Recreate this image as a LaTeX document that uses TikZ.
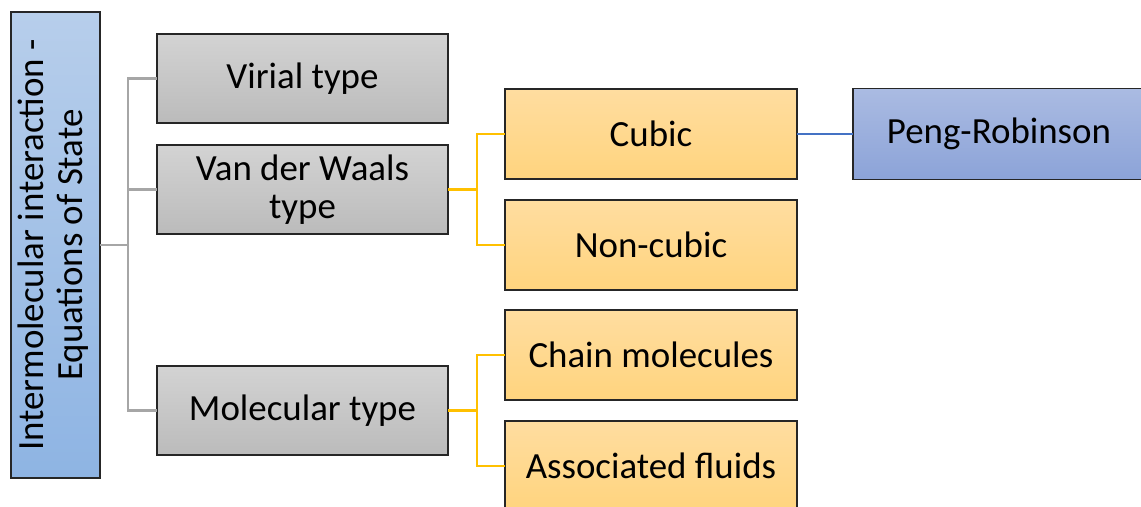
\documentclass[tikz,border=0pt]{standalone}
\usepackage{fontspec}
\setmainfont{Carlito}
\usepackage{graphicx}
\usepackage{tikz}
\usetikzlibrary{positioning}
\definecolor{rootTop}{HTML}{B7CEEB}
\definecolor{rootBottom}{HTML}{8EB4E3}
\definecolor{grayTop}{HTML}{D3D3D3}
\definecolor{grayBottom}{HTML}{BBBBBB}
\definecolor{orangeTop}{HTML}{FFDDA0}
\definecolor{orangeBottom}{HTML}{FFD47E}
\definecolor{blueTop}{HTML}{AABBE2}
\definecolor{blueBottom}{HTML}{8CA3D8}
\definecolor{grayLine}{HTML}{A6A6A6}
\definecolor{orangeLine}{HTML}{FFC000}
\definecolor{blueLine}{HTML}{4472C4}
\definecolor{borderColor}{HTML}{262626}

\begin{document}
\begin{tikzpicture}[
  box/.style={
    rectangle,
    draw=borderColor,
    line width=0.6pt,
    align=center,
    inner sep=2pt,
    outer sep=0pt,
    font=\fontsize{21}{22}\selectfont
  },
  rootbox/.style={box, top color=rootTop, bottom color=rootBottom,
    minimum width=1.78cm, minimum height=9.32cm},
  typebox/.style={box, top color=grayTop, bottom color=grayBottom,
    minimum width=5.82cm, minimum height=1.78cm},
  subbox/.style={box, top color=orangeTop, bottom color=orangeBottom,
    minimum width=5.84cm, minimum height=1.8cm},
  modelbox/.style={box, top color=blueTop, bottom color=blueBottom,
    minimum width=5.84cm, minimum height=1.82cm},
  link/.style={line width=1.5pt}
]
  \useasboundingbox (0,0) rectangle (22.82,-10.12);

  % Root of the tree
  \node[rootbox] (eos) at (1.11,-4.9) {\rotatebox{90}{\begin{tabular}{@{}c@{}}Intermolecular interaction -\\ Equations of State\end{tabular}}};

  % EoS families
  \node[typebox] (virial) at (6.05,-1.57) {Virial type};
  \node[typebox, below=0.44cm of virial] (vdw) {Van der Waals\\ type};
  \node[typebox, below=2.64cm of vdw] (molecular) {Molecular type};

  % Sub-families
  \node[subbox, right=1.14cm of vdw, yshift=1.11cm] (cubic) {Cubic};
  \node[subbox, below=0.42cm of cubic] (noncubic) {Non-cubic};
  \node[subbox, right=1.14cm of molecular, yshift=1.11cm] (chain) {Chain molecules};
  \node[subbox, below=0.42cm of chain] (associated) {Associated fluids};

  % Model
  \node[modelbox, right=1.12cm of cubic] (peng) {Peng-Robinson};

  % Connect nodes
  \draw[link, grayLine] (eos.east) -- ++(0.56,0) |- (virial.west);
  \draw[link, grayLine] (eos.east) -- ++(0.56,0) |- (vdw.west);
  \draw[link, grayLine] (eos.east) -- ++(0.56,0) |- (molecular.west);
  \draw[link, orangeLine] (vdw.east) -- ++(0.58,0) |- (cubic.west);
  \draw[link, orangeLine] (vdw.east) -- ++(0.58,0) |- (noncubic.west);
  \draw[link, orangeLine] (molecular.east) -- ++(0.58,0) |- (chain.west);
  \draw[link, orangeLine] (molecular.east) -- ++(0.58,0) |- (associated.west);
  \draw[link, blueLine] (cubic.east) -- (peng.west);
\end{tikzpicture}
\end{document}
